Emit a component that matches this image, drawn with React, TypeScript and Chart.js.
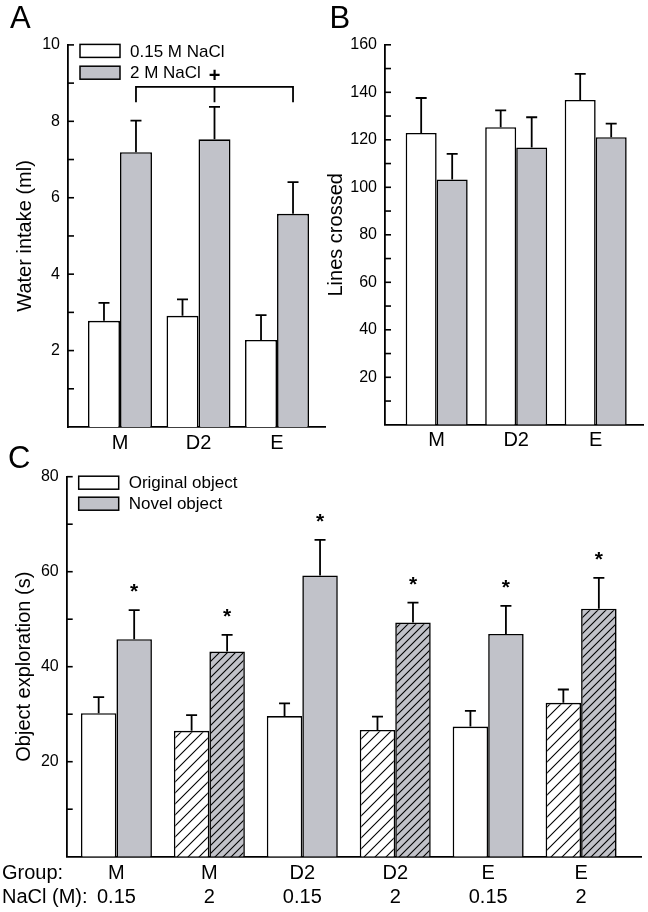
import React, { useEffect, useRef } from 'react';
import { Chart, registerables } from 'chart.js';

Chart.register(...registerables);

const FONT = "'Liberation Sans', Arial, Helvetica, sans-serif";
Chart.defaults.font.family = FONT;
Chart.defaults.color = '#000';

const GRAY = 'rgb(193,194,201)';

// ---------- Panel A: water intake ----------
const catsAB = ['M', 'D2', 'E'];
const legendA = ['0.15 M NaCl', '2 M NaCl'];
const waterLow = [2.78, 2.91, 2.28];
const waterLowSem = [0.47, 0.43, 0.65];
const waterHigh = [7.19, 7.53, 5.58];
const waterHighSem = [0.83, 0.85, 0.83];
const waterTickLabels = [2, 4, 6, 8, 10];
const bracketLevel = 8.9;
const bracketEnd = 8.5;
const plusLevel = 9.18;

// ---------- Panel B: lines crossed ----------
const linesLow = [122.9, 125.3, 136.8];
const linesLowSem = [14.7, 7.1, 11.0];
const linesHigh = [103.3, 116.8, 121.1];
const linesHighSem = [10.8, 12.7, 5.7];
const linesTickLabels = [20, 40, 60, 80, 100, 120, 140, 160];

// ---------- Panel C: object exploration ----------
const groupsC = ['M', 'M', 'D2', 'D2', 'E', 'E'];
const naclC = ['0.15', '2', '0.15', '2', '0.15', '2'];
const legendC = ['Original object', 'Novel object'];
const origObj = [30.2, 26.5, 29.6, 26.7, 27.4, 32.4];
const origObjSem = [3.4, 3.3, 2.7, 2.8, 3.3, 2.8];
const novelObj = [45.8, 43.2, 59.2, 49.3, 46.9, 52.2];
const novelObjSem = [6.1, 3.5, 7.5, 4.2, 5.9, 6.5];
const novelSignificant = [true, true, true, true, true, true];
const explTickLabels = [20, 40, 60, 80];

function hatch(bg: string, spacing: number): CanvasPattern | string {
  const c = document.createElement('canvas');
  c.width = spacing;
  c.height = spacing;
  const g = c.getContext('2d');
  if (!g) return bg;
  g.fillStyle = bg;
  g.fillRect(0, 0, spacing, spacing);
  g.strokeStyle = '#000';
  g.lineWidth = 1.1;
  g.beginPath();
  g.moveTo(-1, spacing + 1);
  g.lineTo(spacing + 1, -1);
  g.moveTo(-2, 2);
  g.lineTo(2, -2);
  g.moveTo(spacing - 2, spacing + 2);
  g.lineTo(spacing + 2, spacing - 2);
  g.stroke();
  return g.createPattern(c, 'repeat') || bg;
}

function errorBars(sems: number[][]) {
  return {
    id: 'errorBars',
    afterDatasetsDraw(chart: any) {
      const ctx = chart.ctx;
      const ys = chart.scales.y;
      ctx.save();
      ctx.strokeStyle = '#000';
      ctx.lineWidth = 1.8;
      sems.forEach((arr, d) => {
        const meta = chart.getDatasetMeta(d);
        meta.data.forEach((el: any, i: number) => {
          const v = chart.data.datasets[d].data[i].y;
          const top = ys.getPixelForValue(v + arr[i]);
          ctx.beginPath();
          ctx.moveTo(el.x, el.y);
          ctx.lineTo(el.x, top);
          ctx.moveTo(el.x - 5.5, top);
          ctx.lineTo(el.x + 5.5, top);
          ctx.stroke();
        });
      });
      ctx.restore();
    },
  };
}

const innerTicks = {
  id: 'innerTicks',
  afterDraw(chart: any) {
    const s = chart.scales.y;
    const ctx = chart.ctx;
    const left = chart.chartArea.left;
    ctx.save();
    ctx.strokeStyle = '#000';
    ctx.lineWidth = 1.6;
    s.ticks.forEach((t: any) => {
      if (t.value === 0) return;
      const p = s.getPixelForValue(t.value);
      ctx.beginPath();
      ctx.moveTo(left, p);
      ctx.lineTo(left + 6, p);
      ctx.stroke();
    });
    ctx.restore();
  },
};

function boxLegend(items: { label: string; fill: string }[], step: number) {
  return {
    id: 'boxLegend',
    afterDraw(chart: any) {
      const { left, top } = chart.chartArea;
      const ctx = chart.ctx;
      ctx.save();
      ctx.font = `17px ${FONT}`;
      ctx.textBaseline = 'middle';
      ctx.textAlign = 'left';
      items.forEach((it, i) => {
        const bx = left + 12;
        const by = top - 0.5 + i * step;
        const w = 40;
        const h = 13;
        ctx.fillStyle = it.fill;
        ctx.fillRect(bx, by, w, h);
        ctx.strokeStyle = '#000';
        ctx.lineWidth = 1.5;
        ctx.strokeRect(bx, by, w, h);
        ctx.fillStyle = '#000';
        ctx.fillText(it.label, bx + w + 10, by + h / 2 + 1);
      });
      ctx.restore();
    },
  };
}

const bracketA = {
  id: 'bracketA',
  afterDatasetsDraw(chart: any) {
    const ctx = chart.ctx;
    const ys = chart.scales.y;
    const els = chart.getDatasetMeta(1).data;
    const yl = ys.getPixelForValue(bracketLevel);
    const ye = ys.getPixelForValue(bracketEnd);
    const x0 = els[0].x;
    const x1 = els[1].x;
    const x2 = els[2].x;
    ctx.save();
    ctx.strokeStyle = '#000';
    ctx.lineWidth = 1.8;
    ctx.beginPath();
    ctx.moveTo(x0, ye);
    ctx.lineTo(x0, yl);
    ctx.lineTo(x2, yl);
    ctx.lineTo(x2, ye);
    ctx.moveTo(x1, yl);
    ctx.lineTo(x1, ye);
    ctx.stroke();
    ctx.fillStyle = '#000';
    ctx.font = `bold 20px ${FONT}`;
    ctx.textAlign = 'center';
    ctx.textBaseline = 'middle';
    ctx.fillText('+', x1, ys.getPixelForValue(plusLevel));
    ctx.restore();
  },
};

const starsC = {
  id: 'starsC',
  afterDatasetsDraw(chart: any) {
    const ctx = chart.ctx;
    const ys = chart.scales.y;
    const els = chart.getDatasetMeta(1).data;
    ctx.save();
    ctx.fillStyle = '#000';
    ctx.font = `bold 21px ${FONT}`;
    ctx.textAlign = 'center';
    ctx.textBaseline = 'alphabetic';
    els.forEach((el: any, i: number) => {
      if (!novelSignificant[i]) return;
      const top = ys.getPixelForValue(novelObj[i] + novelObjSem[i]);
      ctx.fillText('*', el.x, top - 12);
    });
    ctx.restore();
  },
};

const rowHeadersC = {
  id: 'rowHeadersC',
  afterDraw(chart: any) {
    const xs = chart.scales.x;
    const ctx = chart.ctx;
    const y0 = xs.top + 4.3 + 12;
    ctx.save();
    ctx.fillStyle = '#000';
    ctx.font = `20px ${FONT}`;
    ctx.textAlign = 'left';
    ctx.textBaseline = 'middle';
    ctx.fillText('Group:', 2, y0);
    ctx.fillText('NaCl (M):', 2, y0 + 24);
    ctx.restore();
  },
};

function axisCommon() {
  return {
    z: 1,
    grid: { display: false, drawTicks: false },
    border: { display: true, color: '#000', width: 1.8 },
  };
}

function buildA(canvas: HTMLCanvasElement) {
  return new Chart(canvas, {
    type: 'bar',
    data: {
      datasets: [
        { label: legendA[0], data: waterLow.map((y, i) => ({ x: i, y })), backgroundColor: '#fff', borderColor: '#000', borderWidth: 1.6 },
        { label: legendA[1], data: waterHigh.map((y, i) => ({ x: i, y })), backgroundColor: GRAY, borderColor: '#000', borderWidth: 1.6 },
      ],
    },
    options: {
      responsive: false,
      animation: false,
      devicePixelRatio: 1,
      layout: { padding: { left: 0, top: 44.9, right: 5, bottom: 0 } },
      plugins: { legend: { display: false }, tooltip: { enabled: false } },
      datasets: { bar: { categoryPercentage: 0.815, barPercentage: 1 } },
      scales: {
        x: {
          ...axisCommon(),
          type: 'linear',
          min: -0.662,
          max: 2.611,
          offset: false,
          afterBuildTicks: (s: any) => { s.ticks = catsAB.map((_, i) => ({ value: i })); },
          afterFit: (s: any) => { s.height = 43; },
          ticks: { autoSkip: false, maxRotation: 0, padding: 4.5, font: { size: 20 }, color: '#000', callback: (v: any) => catsAB[v] ?? '' },
        },
        y: {
          ...axisCommon(),
          type: 'linear',
          min: 0,
          max: 10,
          afterFit: (s: any) => { s.width = 68; },
          ticks: { stepSize: 1, autoSkip: false, padding: 8, font: { size: 16 }, color: '#000', callback: (v: any) => (waterTickLabels.includes(v) ? String(v) : '') },
          title: { display: true, text: 'Water intake (ml)', font: { size: 20 }, color: '#000', padding: { top: 13, bottom: 0 } },
        },
      },
    } as any,
    plugins: [errorBars([waterLowSem, waterHighSem]), innerTicks, bracketA, boxLegend([{ label: legendA[0], fill: '#fff' }, { label: legendA[1], fill: GRAY }], 21.8)],
  });
}

function buildB(canvas: HTMLCanvasElement) {
  return new Chart(canvas, {
    type: 'bar',
    data: {
      datasets: [
        { label: legendA[0], data: linesLow.map((y, i) => ({ x: i, y })), backgroundColor: '#fff', borderColor: '#000', borderWidth: 1.6 },
        { label: legendA[1], data: linesHigh.map((y, i) => ({ x: i, y })), backgroundColor: GRAY, borderColor: '#000', borderWidth: 1.6 },
      ],
    },
    options: {
      responsive: false,
      animation: false,
      devicePixelRatio: 1,
      layout: { padding: { left: 0, top: 44.8, right: 5, bottom: 0 } },
      plugins: { legend: { display: false }, tooltip: { enabled: false } },
      datasets: { bar: { categoryPercentage: 0.78, barPercentage: 1 } },
      scales: {
        x: {
          ...axisCommon(),
          type: 'linear',
          min: -0.65,
          max: 2.595,
          offset: false,
          afterBuildTicks: (s: any) => { s.ticks = catsAB.map((_, i) => ({ value: i })); },
          afterFit: (s: any) => { s.height = 45.2; },
          ticks: { autoSkip: false, maxRotation: 0, padding: 3.2, font: { size: 20 }, color: '#000', callback: (v: any) => catsAB[v] ?? '' },
        },
        y: {
          ...axisCommon(),
          type: 'linear',
          min: 0,
          max: 160,
          afterFit: (s: any) => { s.width = 61; },
          ticks: { stepSize: 10, autoSkip: false, padding: 8, font: { size: 16 }, color: '#000', callback: (v: any) => (linesTickLabels.includes(v) ? String(v) : '') },
          title: { display: true, text: 'Lines crossed', font: { size: 20 }, color: '#000', padding: { top: 0, bottom: 0 } },
        },
      },
    } as any,
    plugins: [errorBars([linesLowSem, linesHighSem]), innerTicks],
  });
}

function buildC(canvas: HTMLCanvasElement) {
  const whiteFill = naclC.map((n) => (n === '2' ? hatch('#fff', 11) : '#fff'));
  const grayFill = naclC.map((n) => (n === '2' ? hatch(GRAY, 8) : GRAY));
  return new Chart(canvas, {
    type: 'bar',
    data: {
      datasets: [
        { label: legendC[0], data: origObj.map((y, i) => ({ x: i, y })), backgroundColor: whiteFill as any, borderColor: '#000', borderWidth: 1.6 },
        { label: legendC[1], data: novelObj.map((y, i) => ({ x: i, y })), backgroundColor: grayFill as any, borderColor: '#000', borderWidth: 1.6 },
      ],
    },
    options: {
      responsive: false,
      animation: false,
      devicePixelRatio: 1,
      layout: { padding: { left: 0, top: 36.7, right: 6.3, bottom: 0 } },
      plugins: { legend: { display: false }, tooltip: { enabled: false } },
      datasets: { bar: { categoryPercentage: 0.764, barPercentage: 1 } },
      scales: {
        x: {
          ...axisCommon(),
          type: 'linear',
          min: -0.535,
          max: 5.652,
          offset: false,
          afterBuildTicks: (s: any) => { s.ticks = groupsC.map((_, i) => ({ value: i })); },
          afterFit: (s: any) => { s.height = 55.3; },
          ticks: { autoSkip: false, maxRotation: 0, padding: 4.3, font: { size: 20 }, color: '#000', callback: (v: any) => (groupsC[v] !== undefined ? [groupsC[v], naclC[v]] : '') },
        },
        y: {
          ...axisCommon(),
          type: 'linear',
          min: 0,
          max: 80,
          afterFit: (s: any) => { s.width = 66.7; },
          ticks: { stepSize: 10, autoSkip: false, padding: 8, font: { size: 16 }, color: '#000', callback: (v: any) => (explTickLabels.includes(v) ? String(v) : '') },
          title: { display: true, text: 'Object exploration (s)', font: { size: 20 }, color: '#000', padding: { top: 12, bottom: 0 } },
        },
      },
    } as any,
    plugins: [errorBars([origObjSem, novelObjSem]), innerTicks, starsC, rowHeadersC, boxLegend([{ label: legendC[0], fill: '#fff' }, { label: legendC[1], fill: GRAY }], 21)],
  });
}

function Panel(props: { left: number; top: number; width: number; height: number; build: (c: HTMLCanvasElement) => Chart }) {
  const ref = useRef<HTMLCanvasElement>(null);
  useEffect(() => {
    if (!ref.current) return;
    const chart = props.build(ref.current);
    return () => chart.destroy();
  }, []);
  return (
    <canvas
      ref={ref}
      width={props.width}
      height={props.height}
      style={{ position: 'absolute', left: props.left, top: props.top, width: props.width, height: props.height }}
    />
  );
}

const letterStyle = (left: number, top: number): React.CSSProperties => ({
  position: 'absolute',
  left,
  top,
  fontFamily: FONT,
  fontSize: 31,
  lineHeight: 1,
  color: '#000',
});

export default function App() {
  return (
    <div style={{ position: 'absolute', left: 0, top: 0, width: 648, height: 912, background: '#fff', overflow: 'hidden' }}>
      <Panel left={0} top={0} width={330} height={470} build={buildA} />
      <Panel left={324} top={0} width={324} height={470} build={buildB} />
      <Panel left={0} top={440} width={648} height={472} build={buildC} />
      <div style={letterStyle(10, 2)}>A</div>
      <div style={letterStyle(329.5, 2)}>B</div>
      <div style={letterStyle(8, 442)}>C</div>
    </div>
  );
}
